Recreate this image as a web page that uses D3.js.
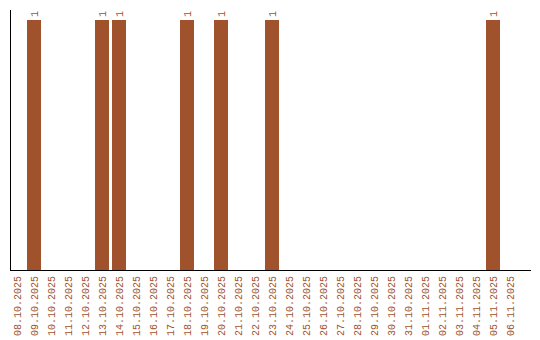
<!DOCTYPE html>
<html><head><meta charset="utf-8">
<script src="https://cdn.jsdelivr.net/npm/d3@7"></script>
<style>body{margin:0;background:#fff}</style>
</head><body>
<script>
const categories = ["08.10.2025","09.10.2025","10.10.2025","11.10.2025","12.10.2025","13.10.2025","14.10.2025","15.10.2025","16.10.2025","17.10.2025","18.10.2025","19.10.2025","20.10.2025","21.10.2025","22.10.2025","23.10.2025","24.10.2025","25.10.2025","26.10.2025","27.10.2025","28.10.2025","29.10.2025","30.10.2025","31.10.2025","01.11.2025","02.11.2025","03.11.2025","04.11.2025","05.11.2025","06.11.2025"];
const values = [0,1,0,0,0,1,1,0,0,0,1,0,1,0,0,1,0,0,0,0,0,0,0,0,0,0,0,0,1,0];

const W = 540, H = 340;
const color = "#a0522d";
const font = "'Liberation Mono', 'Courier New', monospace";
const svg = d3.select("body").append("svg").attr("width", W).attr("height", H);

const x = d3.scaleBand().domain(categories).range([8.5, 518.5]).paddingInner(3/17).paddingOuter(1.5/17);
const y = d3.scaleLinear().domain([0, 1]).range([270, 20]);

const data = categories.map((c,i)=>({c, v: values[i]})).filter(d=>d.v>0);

svg.selectAll("rect.bar").data(data)
  .enter().append("rect")
  .attr("x", d => x(d.c)).attr("y", d => y(d.v))
  .attr("width", x.bandwidth()).attr("height", d => y(0) - y(d.v))
  .attr("fill", color);

svg.selectAll("text.val").data(data)
  .enter().append("text")
  .attr("transform", d => `translate(${x(d.c)+x.bandwidth()/2},${y(d.v)-3}) rotate(-90)`)
  .attr("dy", "0.35em")
  .attr("text-anchor", "start")
  .attr("font-family", font)
  .attr("font-size", 10)
  .attr("fill", color)
  .text(d => d.v);

// axes
svg.append("line").attr("x1", 10.5).attr("x2", 10.5).attr("y1", 10).attr("y2", 270).attr("stroke", "#000");
svg.append("line").attr("x1", 10).attr("x2", 531).attr("y1", 270.5).attr("y2", 270.5).attr("stroke", "#000");

svg.selectAll("text.cat").data(categories).enter().append("text")
  .attr("transform", d => `translate(${x(d)+x.bandwidth()/2},276) rotate(-90)`)
  .attr("dy", "0.35em")
  .attr("text-anchor", "end")
  .attr("font-family", font)
  .attr("font-size", 10)
  .attr("fill", color)
  .text(d => d);
</script>
</body></html>
